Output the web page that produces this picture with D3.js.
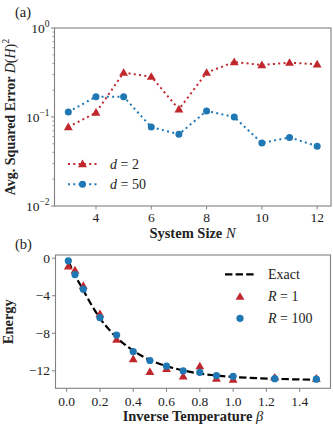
<!DOCTYPE html>
<html><head><meta charset="utf-8">
<script src="https://cdn.jsdelivr.net/npm/d3@7"></script>
<style>
body{margin:0;background:#fff;}
svg{display:block;font-family:"Liberation Serif","Times New Roman",serif;}
</style></head>
<body>
<svg id="c" width="333" height="427"></svg>
<script>
// ---- Panel (a) data ----
const sizes = [3,4,5,6,7,8,9,10,11,12];
const errD2  = [0.077,0.112,0.315,0.284,0.122,0.315,0.415,0.384,0.408,0.391];
const errD50 = [0.114,0.169,0.169,0.077,0.064,0.117,0.100,0.051,0.059,0.047];
const xTicksA = [4,6,8,10,12];
const yTicksA = [1,0.1,0.01];
const yTickExpA = ["0","\u22121","\u22122"];

// ---- Panel (b) data ----
const betas = [0.01,0.05,0.1,0.2,0.3,0.4,0.5,0.6,0.7,0.8,0.9,1.0,1.25,1.5];
const energyR1   = [-0.87,-1.29,-2.95,-5.96,-8.67,-10.75,-12.1,-11.8,-12.58,-11.5,-12.83,-12.93,-12.7,-12.83];
const energyR100 = [-0.28,-1.74,-3.3,-6.34,-8.18,-9.95,-10.9,-11.5,-12.0,-12.16,-12.5,-12.58,-12.83,-12.89];
const exactBeta   = [0.01,0.05,0.1,0.15,0.2,0.25,0.3,0.35,0.4,0.5,0.6,0.7,0.8,0.9,1.0,1.1,1.25,1.5];
const exactEnergy = [-0.3,-1.8,-3.4,-5.0,-6.4,-7.5,-8.45,-9.2,-9.85,-10.85,-11.5,-11.95,-12.3,-12.5,-12.65,-12.75,-12.85,-12.95];
const xTicksB = [0,0.2,0.4,0.6,0.8,1.0,1.2,1.4];
const yTicksB = [0,-4,-8,-12];

const RED = "#c0272d", BLUE = "#1f77b4", SPINE = "#808080", TXT = "#222";
const svg = d3.select("#c");

function frame(g, x0, x1, y0, y1){
  g.append("rect").attr("x",x0).attr("y",y0).attr("width",x1-x0).attr("height",y1-y0)
   .attr("fill","none").attr("stroke",SPINE).attr("stroke-width",1.1);
}

// ================= Panel (a) =================
const xa = d3.scaleLinear().domain([2.5,12.5]).range([54.5,331]);
const ya = d3.scaleLog().domain([0.01,1]).range([206,28]);
const ga = svg.append("g");

// minor ticks
const minors = [];
[0.01,0.1].forEach(b=>{for(let k=2;k<=9;k++) minors.push(b*k);});
ga.selectAll(".mn").data(minors).enter().append("line")
  .attr("x1",xa.range()[0]).attr("x2",xa.range()[0]-2)
  .attr("y1",d=>ya(d)).attr("y2",d=>ya(d)).attr("stroke",SPINE).attr("stroke-width",0.8);
ga.selectAll(".mj").data(yTicksA).enter().append("line")
  .attr("x1",xa.range()[0]).attr("x2",xa.range()[0]-3.5)
  .attr("y1",d=>ya(d)).attr("y2",d=>ya(d)).attr("stroke",SPINE).attr("stroke-width",1);
const ylab = ga.selectAll(".yl").data(yTicksA).enter().append("text")
  .attr("x",xa.range()[0]-5).attr("y",d=>ya(d)+4.5).attr("text-anchor","end")
  .attr("font-size",13.5).attr("fill",TXT);
ylab.append("tspan").text("10");
ylab.append("tspan").attr("dy",-5.5).attr("font-size",9.5).text((d,i)=>yTickExpA[i]);

ga.selectAll(".xt").data(xTicksA).enter().append("line")
  .attr("x1",d=>xa(d)).attr("x2",d=>xa(d)).attr("y1",206).attr("y2",209.5)
  .attr("stroke",SPINE).attr("stroke-width",1);
ga.selectAll(".xl").data(xTicksA).enter().append("text")
  .attr("x",d=>xa(d)).attr("y",222).attr("text-anchor","middle")
  .attr("font-size",13.5).attr("fill",TXT).text(d=>d);

const la = d3.line().x((d,i)=>xa(sizes[i])).y(d=>ya(d));
ga.append("path").datum(errD2).attr("d",la).attr("fill","none").attr("stroke",RED)
  .attr("stroke-width",2).attr("stroke-dasharray","2,3.3");
ga.append("path").datum(errD50).attr("d",la).attr("fill","none").attr("stroke",BLUE)
  .attr("stroke-width",2).attr("stroke-dasharray","2,3.3");
const tri = d3.symbol().type(d3.symbolTriangle).size(34);
ga.selectAll(".t").data(errD2).enter().append("path").attr("d",tri)
  .attr("transform",(d,i)=>`translate(${xa(sizes[i])},${ya(d)+0.6})`).attr("fill",RED);
ga.selectAll(".c").data(errD50).enter().append("circle")
  .attr("cx",(d,i)=>xa(sizes[i])).attr("cy",d=>ya(d)).attr("r",3.5).attr("fill",BLUE);
frame(ga,54.5,331,28,206);

// legend (a)
[[RED,"tri","2",164],[BLUE,"circ","50",184.3]].forEach(([c,m,v,y])=>{
  ga.append("line").attr("x1",68).attr("x2",97).attr("y1",y).attr("y2",y)
    .attr("stroke",c).attr("stroke-width",2).attr("stroke-dasharray","2,3.3");
  if(m==="tri") ga.append("path").attr("d",tri).attr("transform",`translate(82.5,${y+0.6})`).attr("fill",c);
  else ga.append("circle").attr("cx",82.5).attr("cy",y).attr("r",3.5).attr("fill",c);
  const t = ga.append("text").attr("x",110).attr("y",y+4.5).attr("font-size",14).attr("fill",TXT);
  t.append("tspan").attr("font-style","italic").text("d");
  t.append("tspan").text(" = "+v);
});

// labels (a)
svg.append("text").attr("x",15).attr("y",16.5).attr("font-size",14.5).attr("fill",TXT).text("(a)");
const yla = svg.append("text").attr("transform","translate(14.5,117) rotate(-90)")
  .attr("text-anchor","middle").attr("font-size",14).attr("fill",TXT);
yla.append("tspan").attr("font-weight","bold").text("Avg. Squared Error ");
yla.append("tspan").attr("font-style","italic").text("D");
yla.append("tspan").text("(");
yla.append("tspan").attr("font-style","italic").text("H");
yla.append("tspan").text(")");
yla.append("tspan").attr("dy",-6).attr("font-size",10).text("2");
const xla = svg.append("text").attr("x",192.5).attr("y",238).attr("text-anchor","middle")
  .attr("font-size",14.5).attr("fill",TXT);
xla.append("tspan").attr("font-weight","bold").text("System Size ");
xla.append("tspan").attr("font-style","italic").text("N");

// ================= Panel (b) =================
const xb = d3.scaleLinear().domain([-0.067,1.585]).range([55.5,330.5]);
const yb = d3.scaleLinear().domain([-13.86,0.34]).range([388.3,255]);
const gb = svg.append("g");
gb.selectAll(".yt").data(yTicksB).enter().append("line")
  .attr("x1",55.5).attr("x2",52).attr("y1",d=>yb(d)).attr("y2",d=>yb(d))
  .attr("stroke",SPINE).attr("stroke-width",1);
gb.selectAll(".yl").data(yTicksB).enter().append("text")
  .attr("x",50).attr("y",d=>yb(d)+4.5).attr("text-anchor","end")
  .attr("font-size",13.5).attr("fill",TXT).text(d=>d<0?"\u2212"+(-d):d);
gb.selectAll(".xt").data(xTicksB).enter().append("line")
  .attr("x1",d=>xb(d)).attr("x2",d=>xb(d)).attr("y1",388.3).attr("y2",391.8)
  .attr("stroke",SPINE).attr("stroke-width",1);
gb.selectAll(".xl").data(xTicksB).enter().append("text")
  .attr("x",d=>xb(d)).attr("y",406).attr("text-anchor","middle")
  .attr("font-size",13.5).attr("fill",TXT).text(d=>d3.format(".1f")(d));

const lb = d3.line().curve(d3.curveMonotoneX).x((d,i)=>xb(exactBeta[i])).y(d=>yb(d));
gb.append("path").datum(exactEnergy).attr("d",lb).attr("fill","none").attr("stroke","#000")
  .attr("stroke-width",2.2).attr("stroke-dasharray","7.4,3.2");
gb.selectAll(".t").data(energyR1).enter().append("path").attr("d",tri)
  .attr("transform",(d,i)=>`translate(${xb(betas[i])},${yb(d)+0.6})`).attr("fill",RED);
gb.selectAll(".c").data(energyR100).enter().append("circle")
  .attr("cx",(d,i)=>xb(betas[i])).attr("cy",d=>yb(d)).attr("r",3.6).attr("fill",BLUE);
frame(gb,55.5,330.5,255,388.3);

// legend (b)
gb.append("line").attr("x1",225).attr("x2",255).attr("y1",274.3).attr("y2",274.3)
  .attr("stroke","#000").attr("stroke-width",2.2).attr("stroke-dasharray","7.4,3.2");
gb.append("text").attr("x",268).attr("y",279).attr("font-size",14).attr("fill",TXT).text("Exact");
gb.append("path").attr("d",tri).attr("transform","translate(240,297.3)").attr("fill",RED);
gb.append("circle").attr("cx",240).attr("cy",318.3).attr("r",3.6).attr("fill",BLUE);
[["1",296.7],["100",318.3]].forEach(([v,y])=>{
  const t = gb.append("text").attr("x",268).attr("y",y+4.5).attr("font-size",14).attr("fill",TXT);
  t.append("tspan").attr("font-style","italic").text("R");
  t.append("tspan").text(" = "+v);
});

svg.append("text").attr("x",15).attr("y",249).attr("font-size",14.5).attr("fill",TXT).text("(b)");
svg.append("text").attr("transform","translate(13,321.7) rotate(-90)").attr("text-anchor","middle")
  .attr("font-size",14.5).attr("font-weight","bold").attr("fill",TXT).text("Energy");
const xlb = svg.append("text").attr("x",193).attr("y",421).attr("text-anchor","middle")
  .attr("font-size",14.5).attr("fill",TXT);
xlb.append("tspan").attr("font-weight","bold").text("Inverse Temperature ");
xlb.append("tspan").attr("font-style","italic").text("\u03b2");
</script>
</body></html>
